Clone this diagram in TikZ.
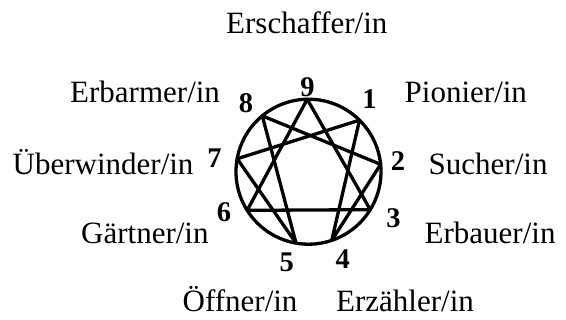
\documentclass[tikz,border=0pt]{standalone}
\usepackage{fontspec}
\setmainfont{Liberation Serif}
\usetikzlibrary{calc}
\begin{document}
\begin{tikzpicture}[x=1pt,y=-1pt,
  lab/.style={anchor=base west,inner sep=0pt,font=\fontsize{31}{33}\selectfont},
  num/.style={anchor=center,inner sep=0pt,font=\fontsize{28.5}{30}\selectfont\bfseries},
  ring/.style={line width=3.3pt},
  chord/.style={line width=3.3pt,line cap=round,line join=round}]
\useasboundingbox (0,0) rectangle (566,320);
\coordinate (c) at (308.5,171.7);
\def\R{72.5}
\coordinate (p9) at ($(c)+(-91:\R)$);
\coordinate (p1) at ($(c)+(-45.3:\R)$);
\coordinate (p2) at ($(c)+(-5.8:\R)$);
\coordinate (p3) at ($(c)+(31.6:\R)$);
\coordinate (p4) at ($(c)+(71.3:\R)$);
\coordinate (p5) at ($(c)+(99.9:\R)$);
\coordinate (p6) at ($(c)+(147.8:\R)$);
\coordinate (p7) at ($(c)+(190.3:\R)$);
\coordinate (p8) at ($(c)+(230.4:\R)$);
\draw[ring] (c) circle (\R);
\draw[chord] (p9) -- (p3) -- (p6) -- cycle;
\draw[chord] (p1) -- (p4) -- (p2) -- (p8) -- (p5) -- (p7) -- cycle;
% numbers
\node[num] (n9) at (307.5,87) {9};
\node[num] (n1) at (369.5,98.7) {1};
\node[num] (n2) at (398,161.5) {2};
\node[num] (n3) at (393.5,218) {3};
\node[num] (n4) at (342.7,259) {4};
\node[num] (n5) at (286.7,262) {5};
\node[num] (n6) at (224,212) {6};
\node[num] (n7) at (214.5,157.7) {7};
\node[num] (n8) at (246,103) {8};
% labels
\node[lab] (l9) at (226,33.3) {Erschaffer/in};
\node[lab] (l8) at (70,102.3) {Erbarmer/in};
\node[lab] (l1) at (404.5,102.3) {Pionier/in};
\node[lab] (l7) at (12.5,174.3) {Überwinder/in};
\node[lab] (l2) at (428.5,174.3) {Sucher/in};
\node[lab] (l6) at (81,243.3) {Gärtner/in};
\node[lab] (l3) at (424.5,243.3) {Erbauer/in};
\node[lab] (l5) at (182.5,311.7) {Öffner/in};
\node[lab] (l4) at (336,311.7) {Erzähler/in};
\end{tikzpicture}
\end{document}
